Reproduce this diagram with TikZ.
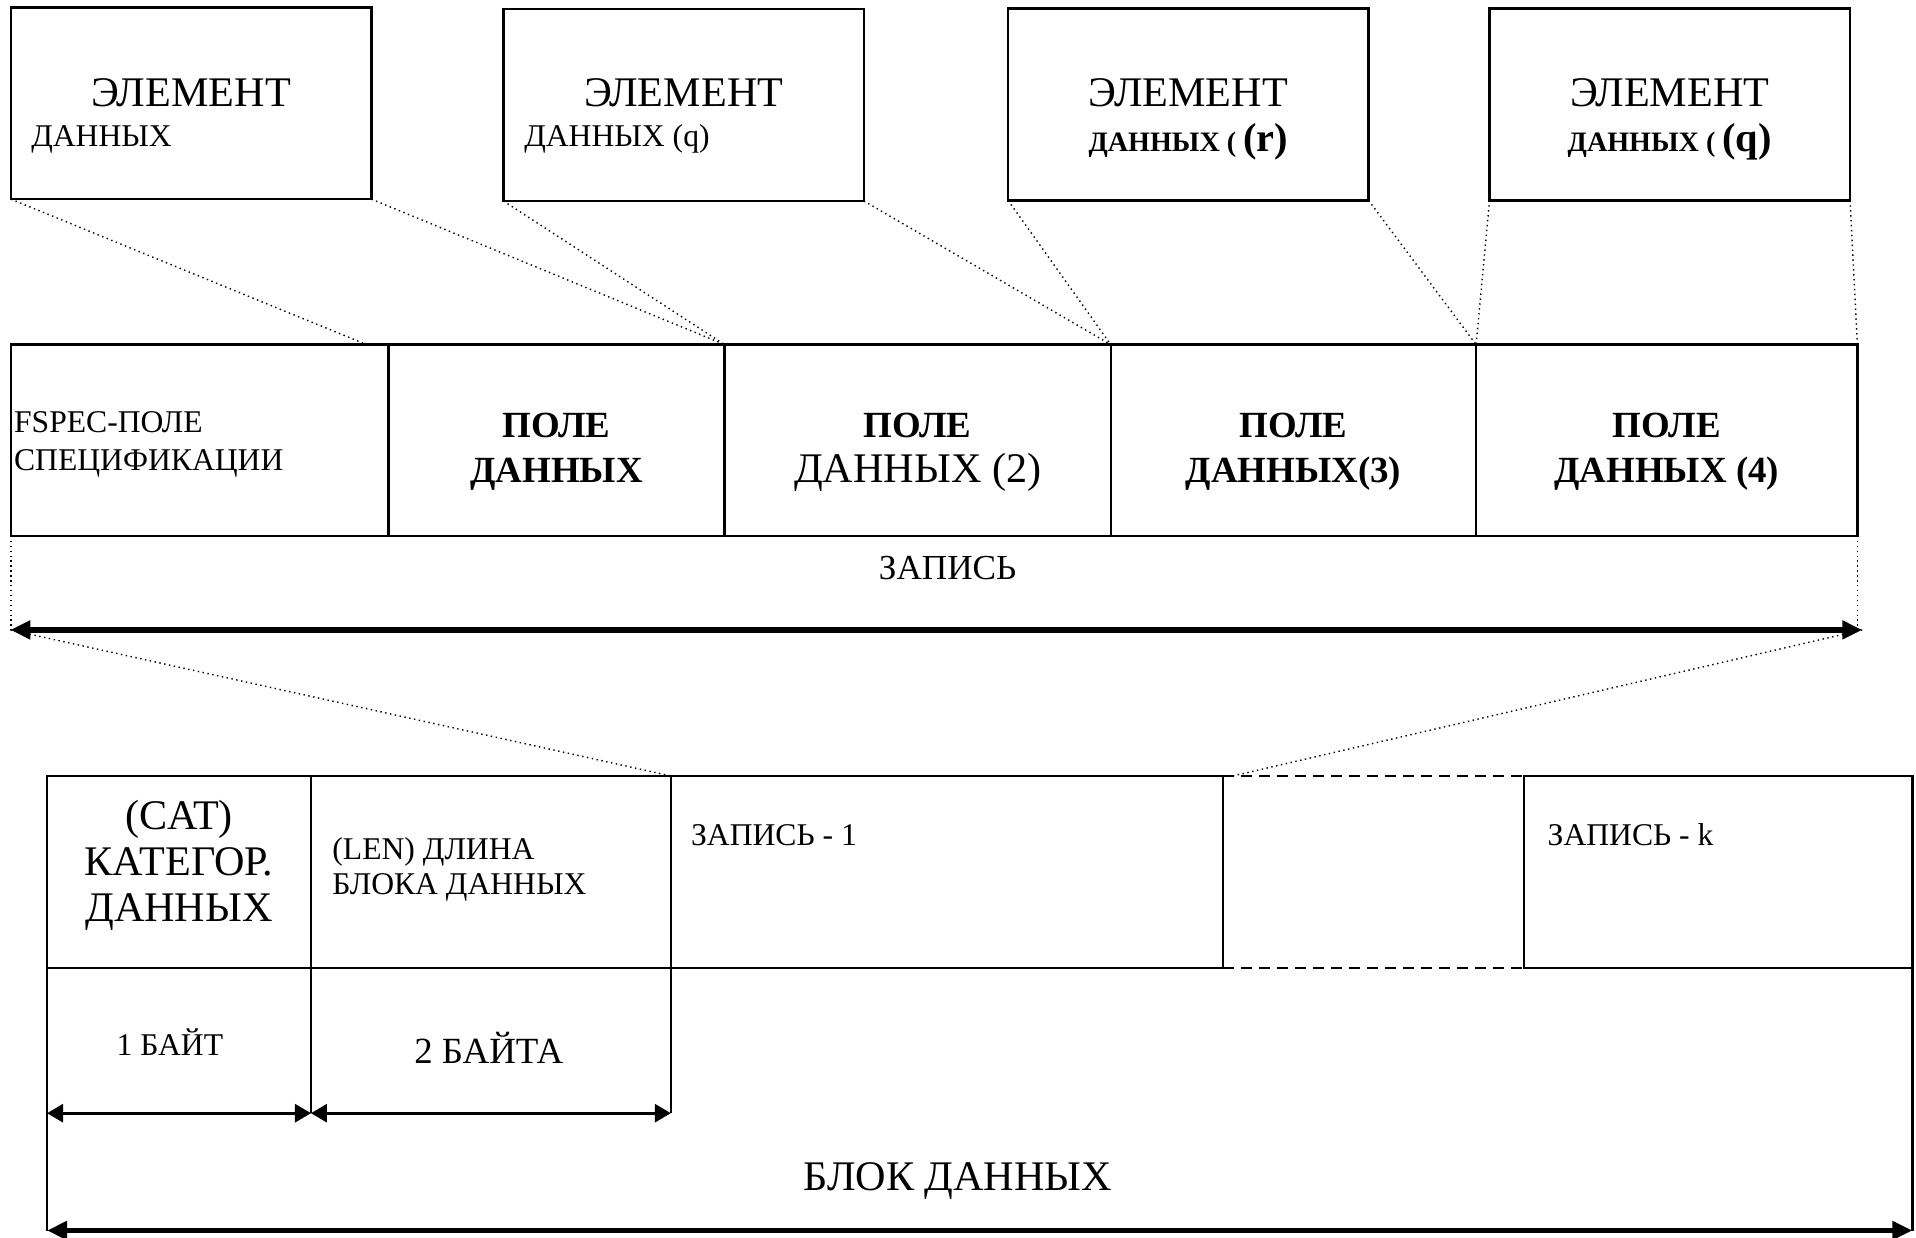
\documentclass[tikz,border=0pt]{standalone}
\usepackage{fontspec}
\setmainfont{Liberation Serif}
\usepackage{tikz}
\usetikzlibrary{arrows.meta,positioning,calc}
\newlength{\pix}
\setlength{\pix}{0.1222mm}
\newcommand{\textrows}[2]{\begin{tabular}[t]{@{}#1@{}}#2\end{tabular}}

\begin{document}
\begin{tikzpicture}[
  x=\pix, y=-\pix,
  node distance=0pt,
  elembox/.style={draw, line width=0.7pt, anchor=north west, inner sep=0pt, outer sep=0pt,
                  minimum width=295\pix, minimum height=157\pix},
  fieldbox/.style={draw, line width=0.7pt, inner sep=0pt, outer sep=0pt,
                   minimum height=156.5\pix},
  cellbox/.style={draw, line width=0.7pt, inner sep=0pt, outer sep=0pt,
                  minimum height=157\pix},
  rule/.style={line width=0.7pt},
  zoomline/.style={densely dotted, line width=0.4pt},
  gapline/.style={dash pattern=on 1.1mm off 0.7mm, line width=0.7pt},
  spanarrow/.style={{Triangle[length=2mm,width=1.8mm]}-{Triangle[length=2mm,width=1.8mm]},
                    line width=1.7pt},
  bytearrow/.style={{Triangle[length=1.6mm,width=1.8mm]}-{Triangle[length=1.6mm,width=1.8mm]},
                    line width=0.8pt},
  txt/.style={inner sep=0pt, anchor=base},
]
\useasboundingbox (0,0) rectangle (1568,1013);

% data elements
\node[elembox] (e1) at (9,6) {};
\node[elembox] (e2) at (412,7.5) {};
\node[elembox] (e3) at (825,7) {};
\node[elembox] (e4) at (1219,7) {};
\node[txt, font=\fontsize{12}{14}\selectfont] (e1top) at (e1.north |- 0,87) {ЭЛЕМЕНТ};
\node[txt, font=\fontsize{12}{14}\selectfont] (e2top) at (e2.north |- 0,87) {ЭЛЕМЕНТ};
\node[txt, font=\fontsize{12}{14}\selectfont] (e3top) at (e3.north |- 0,87) {ЭЛЕМЕНТ};
\node[txt, font=\fontsize{12}{14}\selectfont] (e4top) at (e4.north |- 0,87) {ЭЛЕМЕНТ};
\node[txt, anchor=base west, font=\fontsize{9}{11}\selectfont] (e1bot) at (25,120) {ДАННЫХ};
\node[txt, anchor=base west, font=\fontsize{9}{11}\selectfont] (e2bot) at (428.5,120) {ДАННЫХ (q)};
\node[txt, font=\bfseries\fontsize{8}{10}\selectfont] (e3bot) at (e3.north |- 0,124)
  {ДАННЫХ ( {\fontsize{11.5}{13}\selectfont(r)}};
\node[txt, font=\bfseries\fontsize{8}{10}\selectfont] (e4bot) at (e4.north |- 0,124)
  {ДАННЫХ ( {\fontsize{11.5}{13}\selectfont(q)}};

% record
\node[fieldbox, anchor=north west, minimum width=309\pix] (fspec) at (9,282) {};
\node[fieldbox, minimum width=275\pix, right=of fspec] (pole1) {};
\node[fieldbox, minimum width=316\pix, right=of pole1] (pole2) {};
\node[fieldbox, minimum width=299\pix, right=of pole2] (pole3) {};
\node[fieldbox, minimum width=312\pix, right=of pole3] (pole4) {};
\node[txt, anchor=base west, font=\fontsize{9}{10.7}\selectfont] (fspectxt) at (11,354)
  {\textrows{l}{FSPEC-ПОЛЕ\\СПЕЦИФИКАЦИИ}};
\node[txt, font=\bfseries\fontsize{10.5}{12.8}\selectfont] (pole1txt) at (pole1.north |- 0,358)
  {\textrows{c}{ПОЛЕ\\ДАННЫХ}};
\node[txt, font=\fontsize{10.5}{12.8}\selectfont] (pole2txt) at (pole2.north |- 0,358)
  {\textrows{c}{\textbf{ПОЛЕ}\\{\fontsize{12}{13}\selectfont ДАННЫХ (2)}}};
\node[txt, font=\bfseries\fontsize{10.5}{12.8}\selectfont] (pole3txt) at (pole3.north |- 0,358)
  {\textrows{c}{ПОЛЕ\\ДАННЫХ(3)}};
\node[txt, font=\bfseries\fontsize{10.5}{12.8}\selectfont] (pole4txt) at (pole4.north |- 0,358)
  {\textrows{c}{ПОЛЕ\\ДАННЫХ (4)}};

\draw[zoomline] (e1.south west) -- ([xshift=-18\pix]fspec.north east);
\draw[zoomline] (e1.south east) -- (pole1.north east);
\draw[zoomline] (e2.south west) -- (pole1.north east);
\draw[zoomline] (e2.south east) -- (pole2.north east);
\draw[zoomline] (e3.south west) -- (pole2.north east);
\draw[zoomline] (e3.south east) -- (pole3.north east);
\draw[zoomline] (e4.south west) -- (pole3.north east);
\draw[zoomline] (e4.south east) -- (pole4.north east);

\coordinate (recL) at (8.5,515.5);
\coordinate (recR) at (1524,515.5);
\draw[zoomline] (fspec.south west) -- (fspec.south west |- recL);
\draw[zoomline] (pole4.south east) -- (pole4.south east |- recR);
\draw[spanarrow] (recL) -- (recR);
\node[txt, font=\fontsize{10}{12}\selectfont] (reclabel) at (775.5,474.5) {ЗАПИСЬ};

% data block
\node[cellbox, anchor=north west, minimum width=216\pix] (cat) at (38.5,635) {};
\node[cellbox, minimum width=294.5\pix, right=of cat] (len) {};
\node[cellbox, minimum width=452\pix, right=of len] (rec1) {};
\node[cellbox, anchor=north west, minimum width=318\pix] (reck) at (1247,635) {};
\draw[gapline] (rec1.north east) -- (reck.north west);
\draw[gapline] (rec1.south east) -- (reck.south west);
\node[txt, font=\fontsize{12}{13}\selectfont] (cattxt) at (cat.north |- 0,679)
  {\textrows{c}{(CAT)\\КАТЕГОР.\\ДАННЫХ}};
\node[txt, anchor=base west, font=\fontsize{9}{10.2}\selectfont] (lentxt) at (271.5,703)
  {\textrows{l}{(LEN) ДЛИНА\\БЛОКА ДАННЫХ}};
\node[txt, anchor=base west, font=\fontsize{9}{11}\selectfont] (rec1txt) at (565,692) {ЗАПИСЬ - 1};
\node[txt, anchor=base west, font=\fontsize{9}{11}\selectfont] (recktxt) at (1266,692) {ЗАПИСЬ - k};

\draw[zoomline] (recL) -- (rec1.north west);
\draw[zoomline] (recR) -- ([xshift=8\pix]rec1.north east);

\coordinate (byteA) at (cat.south west |- 0,911);
\coordinate (byteB) at (cat.south east |- 0,911);
\coordinate (byteC) at (len.south east |- 0,911);
\coordinate (blockL) at (cat.south west |- 0,1007);
\coordinate (blockR) at (reck.south east |- 0,1007);
\draw[rule] (cat.south west) -- (blockL);
\draw[rule] (cat.south east) -- (byteB);
\draw[rule] (len.south east) -- (byteC);
\draw[rule] (reck.south east) -- (blockR);
\draw[bytearrow] (byteA) -- (byteB);
\draw[bytearrow] (byteB) -- (byteC);
\draw[spanarrow] (blockL) -- (blockR);
\node[txt, font=\fontsize{9}{11}\selectfont] (byte1) at (139,864) {1 БАЙТ};
\node[txt, font=\fontsize{10.5}{12}\selectfont] (byte2) at (400,870) {2 БАЙТА};
\node[txt, font=\fontsize{12}{14}\selectfont] (blocklabel) at (784,974) {БЛОК ДАННЫХ};
\end{tikzpicture}
\end{document}
